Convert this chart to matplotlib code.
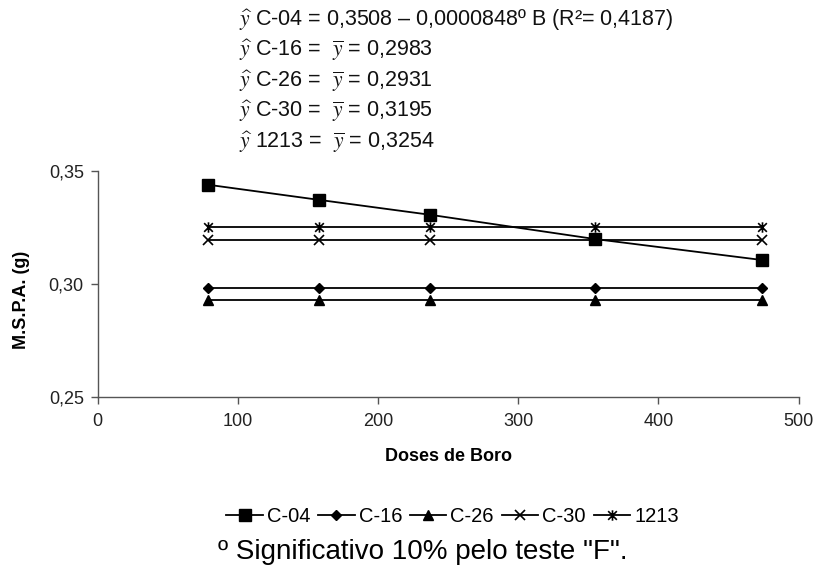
import matplotlib
matplotlib.use("Agg")
import matplotlib.pyplot as plt
from matplotlib.path import Path
from matplotlib.lines import Line2D
from matplotlib.ticker import FuncFormatter

plt.rcParams["font.family"] = ["Liberation Sans", "DejaVu Sans"]
plt.rcParams["mathtext.fontset"] = "stix"

# Doses de boro e massa seca da parte aérea por cultivar
doses = [79, 158, 237, 355, 474]
c04 = [0.3441, 0.3374, 0.3308, 0.3200, 0.3107]
c16 = [0.2983, 0.2983, 0.2983, 0.2983, 0.2983]
c26 = [0.2931, 0.2931, 0.2931, 0.2931, 0.2931]
c30 = [0.3195, 0.3195, 0.3195, 0.3195, 0.3195]
c1213 = [0.3254, 0.3254, 0.3254, 0.3254, 0.3254]

series_names = ["C-04", "C-16", "C-26", "C-30", "1213"]
equations = [
    r"$\widehat{y}$ C-04 = 0,3508 – 0,0000848º B (R²= 0,4187)",
    r"$\widehat{y}$ C-16 =  $\overline{y}$ = 0,2983",
    r"$\widehat{y}$ C-26 =  $\overline{y}$ = 0,2931",
    r"$\widehat{y}$ C-30 =  $\overline{y}$ = 0,3195",
    r"$\widehat{y}$ 1213 =  $\overline{y}$ = 0,3254",
]
xticks = [0, 100, 200, 300, 400, 500]
yticks = [0.25, 0.30, 0.35]

# asterisco estilo planilha: X com traço vertical
asterisk = Path(
    [(-1, -1), (1, 1), (-1, 1), (1, -1), (0, -1.2), (0, 1.2)],
    [Path.MOVETO, Path.LINETO, Path.MOVETO, Path.LINETO, Path.MOVETO, Path.LINETO],
)

styles = [
    dict(marker="s", ms=8),
    dict(marker="D", ms=5.5),
    dict(marker="^", ms=7.5),
    dict(marker="x", ms=7, mew=1.2),
    dict(marker=asterisk, ms=7.5, mew=1.2),
]

fig = plt.figure(figsize=(8.14, 5.66), dpi=100)
ax = fig.add_axes([0.12, 0.299, 0.861, 0.398])

for y, name, st in zip([c04, c16, c26, c30, c1213], series_names, styles):
    ax.plot(doses, y, color="black", lw=1.3, mfc="black", mec="black",
            label=name, clip_on=False, **st)

ax.set_xlim(0, 500)
ax.set_ylim(0.25, 0.35)
ax.set_xticks(xticks)
ax.set_yticks(yticks)
ax.yaxis.set_major_formatter(FuncFormatter(lambda v, p: f"{v:.2f}".replace(".", ",")))

for side in ("top", "right"):
    ax.spines[side].set_visible(False)
for side in ("left", "bottom"):
    ax.spines[side].set_color("#555555")
    ax.spines[side].set_linewidth(1.0)
ax.tick_params(direction="out", length=5, width=1.0, color="#555555",
               labelsize=13, labelcolor="#222222")
ax.tick_params(axis="x", pad=7)
ax.tick_params(axis="y", pad=5)

ax.set_xlabel("Doses de Boro", fontsize=13, fontweight="bold", labelpad=13)
fig.text(0.026, 0.47, "M.S.P.A. (g)", rotation=90, fontsize=13,
         fontweight="bold", ha="center", va="center")

# equações de regressão acima do gráfico
for i, eq in enumerate(equations):
    fig.text(0.294, 1 - (20 + 30.5 * i) / 566, eq, fontsize=15.5,
             ha="left", va="center", color="#111111")

handles = [Line2D([], [], color="black", lw=1.3, mfc="black", mec="black", **st)
           for st in styles]
fig.legend(handles, series_names, loc="center", bbox_to_anchor=(0.556, 1 - 517 / 566),
           ncol=5, frameon=False, fontsize=14.5, handlelength=1.8,
           handletextpad=0.2, columnspacing=0.4)

fig.text(0.519, 1 - 552 / 566, 'º Significativo 10% pelo teste "F".', fontsize=20,
         ha="center", va="center")

fig.savefig("out.png", dpi=100)
